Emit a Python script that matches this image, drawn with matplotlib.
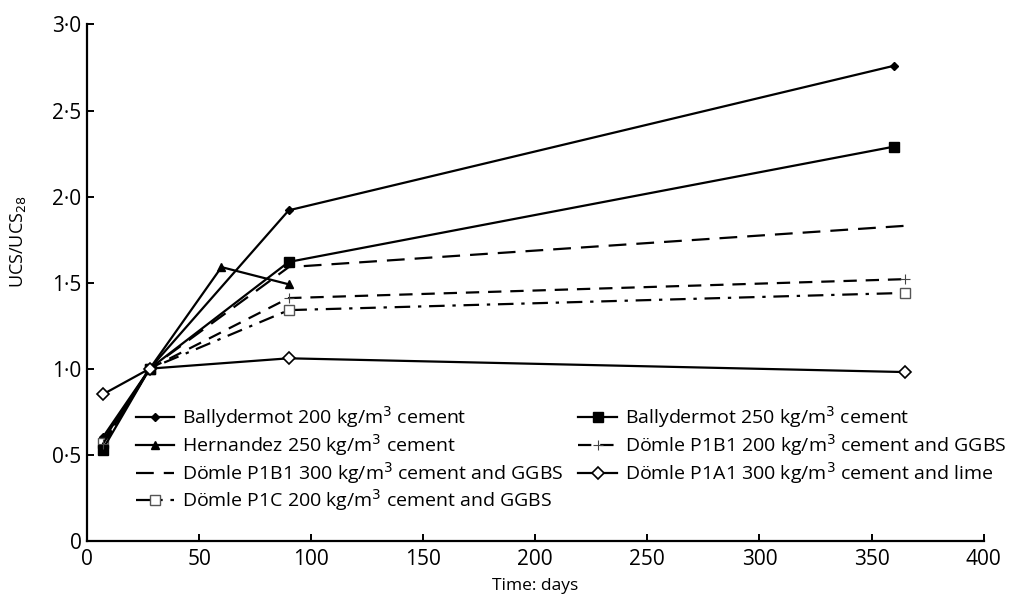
import matplotlib.pyplot as plt
import matplotlib.ticker as mticker
import numpy as np

plt.rcParams['font.family'] = ['Open Sans', 'DejaVu Sans']

# data (Zeit in Tagen, UCS/UCS28)
t_bally = [7, 28, 90, 360]
bally200 = [0.60, 1.00, 1.92, 2.76]
bally250 = [0.53, 1.00, 1.62, 2.29]

t_hern = [7, 28, 60, 90]
hern250 = [0.58, 1.00, 1.59, 1.49]

t_doemle = [7, 28, 90, 365]
p1b1_300 = [0.55, 1.00, 1.59, 1.83]
p1b1_200 = [0.56, 1.00, 1.41, 1.52]
p1a1_300 = [0.85, 1.00, 1.06, 0.98]
p1c_200 = [0.57, 1.00, 1.34, 1.44]

fig = plt.figure(figsize=(10.14, 5.97), dpi=100)
ax = fig.add_axes([0.0858, 0.0943, 0.8842, 0.8647])

lw = 1.6
h1, = ax.plot(t_bally, bally200, 'k-', marker='D', markersize=4.5, lw=lw,
              label=r'Ballydermot 200 kg/m$^3$ cement')
h2, = ax.plot(t_hern, hern250, 'k-', marker='^', markersize=6, lw=lw,
              label=r'Hernandez 250 kg/m$^3$ cement')
h3, = ax.plot(t_doemle, p1b1_300, 'k', ls=(0, (8, 4.5)), lw=lw,
              label=r'Dömle P1B1 300 kg/m$^3$ cement and GGBS')
h4, = ax.plot(t_doemle, p1c_200, 'k', ls=(0, (7, 3.5, 1.5, 3.5)), lw=lw, marker='s',
              markersize=7, mfc='white', mec='#555555', mew=1,
              label=r'Dömle P1C 200 kg/m$^3$ cement and GGBS')
h5, = ax.plot(t_bally, bally250, 'k-', marker='s', markersize=6.5, lw=lw,
              label=r'Ballydermot 250 kg/m$^3$ cement')
h6, = ax.plot(t_doemle, p1b1_200, 'k', ls=(0, (6, 4)), lw=lw, marker='+',
              markersize=7, mew=0.8, mec='#444444',
              label=r'Dömle P1B1 200 kg/m$^3$ cement and GGBS')
h7, = ax.plot(t_doemle, p1a1_300, 'k-', marker='D', markersize=6, lw=lw,
              mfc='white', mew=1.2,
              label=r'Dömle P1A1 300 kg/m$^3$ cement and lime')

ax.set_xlim(0, 400)
ax.set_ylim(0, 3.0)
ax.set_xticks(np.arange(0, 401, 50))
ax.set_yticks(np.arange(0, 3.01, 0.5))
ax.yaxis.set_major_formatter(mticker.FuncFormatter(
    lambda v, p: '0' if v == 0 else f'{v:.1f}'.replace('.', '\u00b7')))

for s in ['top', 'right']:
    ax.spines[s].set_visible(False)
for s in ['left', 'bottom']:
    ax.spines[s].set_linewidth(1.6)
ax.tick_params(direction='in', length=5, width=1.4, labelsize=15, pad=4)
ax.tick_params(axis='x', pad=6)

ax.set_xlabel('Time: days', fontsize=12.5, labelpad=6)
ax.set_ylabel(r'UCS/UCS$_{28}$', fontsize=13)
ax.yaxis.set_label_coords(-0.066, 0.58)

ax.legend(handles=[h1, h2, h3, h4, h5, h6, h7], ncol=2, loc='upper left',
          bbox_to_anchor=(0.0455, 0.28), frameon=False, fontsize=14,
          handlelength=2.0, handletextpad=0.4, columnspacing=0.75,
          labelspacing=0.1, borderaxespad=0)

fig.savefig('out.png', dpi=100)
